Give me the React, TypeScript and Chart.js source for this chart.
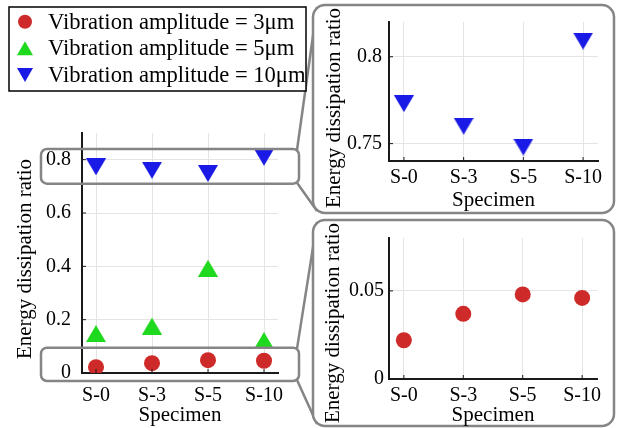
import React, { useEffect, useRef } from 'react';
import { Chart, registerables } from 'chart.js';

Chart.register(...registerables);

// ---------- data ----------
const specimens = ['S-0', 'S-3', 'S-5', 'S-10'];
const amp3 = [0.022, 0.037, 0.048, 0.046];
const amp5 = [0.148, 0.176, 0.393, 0.122];
const amp10 = [0.773, 0.76, 0.748, 0.809];
const seriesLabels = [
  'Vibration amplitude = 3μm',
  'Vibration amplitude = 5μm',
  'Vibration amplitude = 10μm',
];
const mainYTicks = [0, 0.2, 0.4, 0.6, 0.8];
const topYTicks = [0.75, 0.8];
const bottomYTicks = [0, 0.05];
const mainYRange = [0, 0.9];
const topYRange = [0.74, 0.82];
const bottomYRange = [0, 0.08];
// zoom windows drawn on main axes (data units)
const topWindow = [0.71, 0.84];
const bottomWindow = [-0.03, 0.095];

// ---------- styles ----------
const FONT = '"Liberation Serif", "Times New Roman", serif';
const RED = '#cf2a2a';
const GREEN = '#1fd91f';
const BLUE = '#1a1ae6';
const GRID = '#e4e4e4';
const AXIS = '#1a1a1a';
const BOXGRAY = '#858585';
const W = 617;
const H = 428;

function triImg(color: string, w: number, h: number, down: boolean) {
  const c = document.createElement('canvas');
  c.width = w;
  c.height = h;
  const ctx = c.getContext('2d')!;
  ctx.fillStyle = color;
  ctx.beginPath();
  if (down) {
    ctx.moveTo(0, 0);
    ctx.lineTo(w, 0);
    ctx.lineTo(w / 2, h);
  } else {
    ctx.moveTo(w / 2, 0);
    ctx.lineTo(w, h);
    ctx.lineTo(0, h);
  }
  ctx.closePath();
  ctx.fill();
  return c;
}

function pts(vals: number[]) {
  return vals.map((v, i) => ({ x: i, y: v }));
}

function xScale(labelPad: number, xHeight: number, titlePad: number) {
  return {
    type: 'linear',
    min: -0.25,
    max: 3.25,
    afterBuildTicks: (s: any) => {
      s.ticks = specimens.map((_, i) => ({ value: i }));
    },
    afterFit: (s: any) => {
      s.height = xHeight;
    },
    ticks: {
      callback: (v: any) => specimens[v as number] ?? '',
      font: { family: FONT, size: 20 },
      color: '#000',
      padding: labelPad,
      maxRotation: 0,
      autoSkip: false,
    },
    grid: { color: GRID, drawTicks: false, lineWidth: 1 },
    border: { display: true, color: AXIS, width: 2 },
    title: {
      display: true,
      text: 'Specimen',
      font: { family: FONT, size: 21 },
      color: '#000',
      padding: { top: 0, bottom: titlePad },
    },
  };
}

function yScale(range: number[], ticks: number[], yWidth: number, labelPad: number, fmt: (v: number) => string) {
  return {
    type: 'linear',
    min: range[0],
    max: range[1],
    afterBuildTicks: (s: any) => {
      s.ticks = ticks.map((v) => ({ value: v }));
    },
    afterFit: (s: any) => {
      s.width = yWidth;
    },
    ticks: {
      callback: (v: any) => fmt(v as number),
      font: { family: FONT, size: 20 },
      color: '#000',
      padding: labelPad,
    },
    grid: { color: GRID, drawTicks: false, lineWidth: 1 },
    border: { display: true, color: AXIS, width: 2 },
    title: { display: false },
  };
}

const innerTicks = {
  id: 'innerTicks',
  afterDraw(chart: any) {
    const { ctx, chartArea, scales } = chart;
    ctx.save();
    ctx.strokeStyle = AXIS;
    ctx.lineWidth = 1;
    ctx.beginPath();
    scales.x.ticks.forEach((t: any) => {
      const px = scales.x.getPixelForValue(t.value);
      ctx.moveTo(px, chartArea.bottom);
      ctx.lineTo(px, chartArea.bottom - 4);
    });
    scales.y.ticks.forEach((t: any) => {
      const py = scales.y.getPixelForValue(t.value);
      ctx.moveTo(chartArea.left, py);
      ctx.lineTo(chartArea.left + 4, py);
    });
    ctx.stroke();
    ctx.restore();
  },
};

function yTitle(cx: number, cy: number) {
  return {
    id: 'yTitle',
    afterDraw(chart: any) {
      const { ctx } = chart;
      ctx.save();
      ctx.translate(cx, cy);
      ctx.rotate(-Math.PI / 2);
      ctx.font = `21px ${FONT}`;
      ctx.fillStyle = '#000';
      ctx.textAlign = 'center';
      ctx.textBaseline = 'middle';
      ctx.fillText('Energy dissipation ratio', 0, 0);
      ctx.restore();
    },
  };
}

const topBox = { x: 313, y: 5, w: 301, h: 208 };
const bottomBox = { x: 313, y: 220, w: 301, h: 206 };

function rr(ctx: CanvasRenderingContext2D, x: number, y: number, w: number, h: number, r: number) {
  ctx.beginPath();
  ctx.moveTo(x + r, y);
  ctx.lineTo(x + w - r, y);
  ctx.arcTo(x + w, y, x + w, y + r, r);
  ctx.lineTo(x + w, y + h - r);
  ctx.arcTo(x + w, y + h, x + w - r, y + h, r);
  ctx.lineTo(x + r, y + h);
  ctx.arcTo(x, y + h, x, y + h - r, r);
  ctx.lineTo(x, y + r);
  ctx.arcTo(x, y, x + r, y, r);
  ctx.closePath();
}

const decor = {
  id: 'decor',
  afterDraw(chart: any) {
    const { ctx, chartArea, scales } = chart;
    const y = scales.y;
    const L = chartArea.left - 41;
    const R = chartArea.right + 21;
    const t0 = y.getPixelForValue(topWindow[1]);
    const t1 = y.getPixelForValue(topWindow[0]);
    const b0 = y.getPixelForValue(bottomWindow[1]);
    const b1 = y.getPixelForValue(bottomWindow[0]);
    ctx.save();
    ctx.strokeStyle = BOXGRAY;
    ctx.lineWidth = 2.5;
    // connectors
    ctx.beginPath();
    ctx.moveTo(R - 2, t0 + 1);
    ctx.lineTo(topBox.x + 4, topBox.y + 2);
    ctx.moveTo(R - 2, t1 - 1);
    ctx.lineTo(topBox.x + 4, topBox.y + topBox.h - 2);
    ctx.moveTo(R - 2, b0 + 1);
    ctx.lineTo(bottomBox.x + 4, bottomBox.y + 2);
    ctx.moveTo(R - 2, b1 - 1);
    ctx.lineTo(bottomBox.x + 4, bottomBox.y + bottomBox.h - 2);
    ctx.stroke();
    // inset boxes
    [topBox, bottomBox].forEach((b) => {
      rr(ctx, b.x, b.y, b.w, b.h, 12);
      ctx.fillStyle = '#fff';
      ctx.fill();
      ctx.stroke();
    });
    // window boxes
    rr(ctx, L, t0, R - L, t1 - t0, 6);
    ctx.stroke();
    rr(ctx, L, b0, R - L, b1 - b0, 6);
    ctx.stroke();
    // legend
    ctx.fillStyle = '#fff';
    ctx.fillRect(9, 7, 297, 84);
    ctx.strokeStyle = '#000';
    ctx.lineWidth = 1.5;
    ctx.strokeRect(9, 7, 297, 84);
    const rows = [21.7, 48.3, 75];
    const mx = 25;
    ctx.fillStyle = RED;
    ctx.beginPath();
    ctx.arc(mx, rows[0], 7, 0, Math.PI * 2);
    ctx.fill();
    ctx.fillStyle = GREEN;
    ctx.beginPath();
    ctx.moveTo(mx, rows[1] - 7);
    ctx.lineTo(mx + 8, rows[1] + 7);
    ctx.lineTo(mx - 8, rows[1] + 7);
    ctx.closePath();
    ctx.fill();
    ctx.fillStyle = BLUE;
    ctx.beginPath();
    ctx.moveTo(mx - 8, rows[2] - 7);
    ctx.lineTo(mx + 8, rows[2] - 7);
    ctx.lineTo(mx, rows[2] + 7);
    ctx.closePath();
    ctx.fill();
    ctx.fillStyle = '#000';
    ctx.font = `22.6px ${FONT}`;
    ctx.textAlign = 'left';
    ctx.textBaseline = 'middle';
    seriesLabels.forEach((s, i) => ctx.fillText(s, 48, rows[i] + 1));
    ctx.restore();
  },
};

const fmtMain = (v: number) => (v === 0 ? '0' : v.toFixed(1));
const fmtTop = (v: number) => (v === 0.8 ? '0.8' : v.toFixed(2));
const fmtBottom = (v: number) => (v === 0 ? '0' : v.toFixed(2));

export default function App() {
  const mainRef = useRef<HTMLCanvasElement>(null);
  const topRef = useRef<HTMLCanvasElement>(null);
  const botRef = useRef<HTMLCanvasElement>(null);

  useEffect(() => {
    const greenTri = triImg(GREEN, 20, 17, false);
    const blueTri = triImg(BLUE, 20, 17, true);

    const common = {
      responsive: false,
      animation: false as const,
      plugins: { legend: { display: false }, tooltip: { enabled: false } },
    };

    const main = new Chart(mainRef.current!, {
      type: 'scatter',
      data: {
        datasets: [
          { label: seriesLabels[0], data: pts(amp3), pointStyle: 'circle', pointRadius: 8, backgroundColor: RED, borderWidth: 0 },
          { label: seriesLabels[1], data: pts(amp5), pointStyle: greenTri, backgroundColor: GREEN, borderWidth: 0 },
          { label: seriesLabels[2], data: pts(amp10), pointStyle: blueTri, backgroundColor: BLUE, borderWidth: 0 },
        ],
      },
      options: {
        ...common,
        layout: { padding: { left: 0, top: 133, right: 339, bottom: 0 } },
        scales: {
          x: xScale(11, 55, 0) as any,
          y: yScale(mainYRange, mainYTicks, 82, 11, fmtMain) as any,
        },
      },
      plugins: [innerTicks, decor, yTitle(25.7, 259)],
    } as any);

    const top = new Chart(topRef.current!, {
      type: 'scatter',
      data: {
        datasets: [
          { label: seriesLabels[2], data: pts(amp10), pointStyle: blueTri, backgroundColor: BLUE, borderWidth: 0 },
        ],
      },
      options: {
        ...common,
        layout: { padding: { left: 313, top: 22, right: 19, bottom: 215 } },
        scales: {
          x: xScale(5, 52, 0) as any,
          y: yScale(topYRange, topYTicks, 76, 7, fmtTop) as any,
        },
      },
      plugins: [innerTicks, yTitle(334, 108)],
    } as any);

    const bot = new Chart(botRef.current!, {
      type: 'scatter',
      data: {
        datasets: [
          { label: seriesLabels[0], data: pts(amp3), pointStyle: 'circle', pointRadius: 8, backgroundColor: RED, borderWidth: 0 },
        ],
      },
      options: {
        ...common,
        layout: { padding: { left: 313, top: 238, right: 20, bottom: 0 } },
        scales: {
          x: xScale(5, 49, 0) as any,
          y: yScale(bottomYRange, bottomYTicks, 76, 5, fmtBottom) as any,
        },
      },
      plugins: [innerTicks, yTitle(333.5, 323)],
    } as any);

    return () => {
      main.destroy();
      top.destroy();
      bot.destroy();
    };
  }, []);

  const cs: React.CSSProperties = { position: 'absolute', left: 0, top: 0, width: W, height: H };
  return (
    <div style={{ position: 'absolute', left: 0, top: 0, width: W, height: H, background: '#fff' }}>
      <canvas ref={mainRef} width={W} height={H} style={cs} />
      <canvas ref={topRef} width={W} height={H} style={cs} />
      <canvas ref={botRef} width={W} height={H} style={cs} />
    </div>
  );
}
